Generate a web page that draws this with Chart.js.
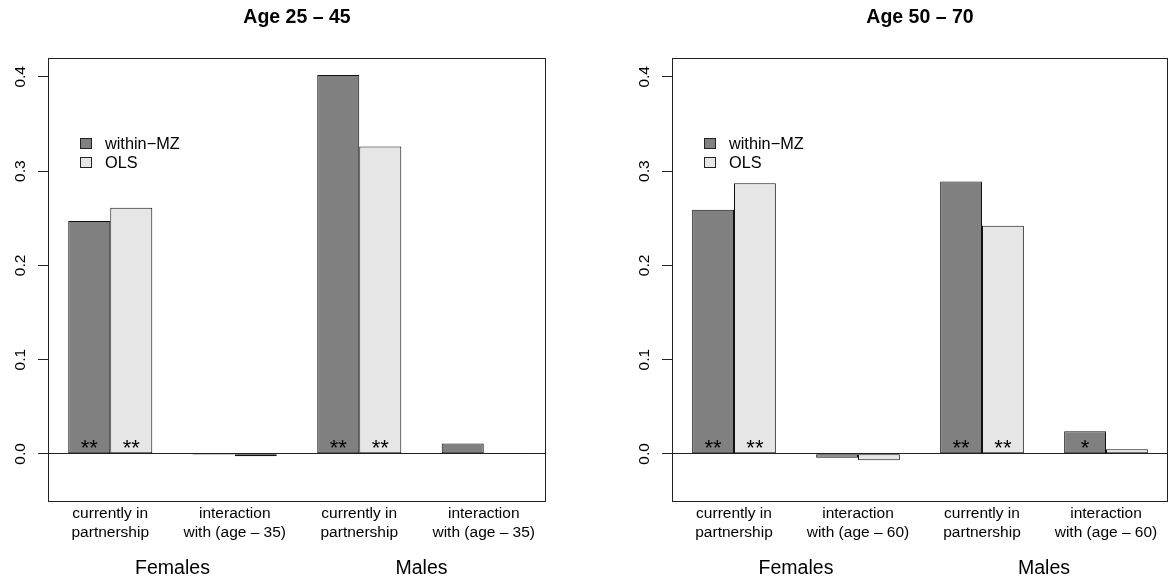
<!DOCTYPE html>
<html>
<head>
<meta charset="utf-8">
<script src="https://cdn.jsdelivr.net/npm/chart.js@4.4.1/dist/chart.umd.min.js"></script>
<style>
  body { margin: 0; background: #fff; }
  .panel { position: absolute; top: 0; height: 582px; }
</style>
</head>
<body>
<div class="panel" style="left:0;width:584px"><canvas id="young"></canvas></div>
<div class="panel" style="left:584px;width:585px"><canvas id="old"></canvas></div>
<script>
// bar groups
const groupLabels = ['Females', 'Males'];
const seriesNames = ['within\u2212MZ', 'OLS'];
const yTicks = [0, 0.1, 0.2, 0.3, 0.4];

const youngCategories = [['currently in', 'partnership'], ['interaction', 'with (age \u2013 35)'],
                         ['currently in', 'partnership'], ['interaction', 'with (age \u2013 35)']];
const youngWithin = [0.247, -0.001, 0.402, 0.011];
const youngOLS = [0.261, -0.0025, 0.326, 0.001];
const youngWithinStars = ['**', '', '**', ''];
const youngOLSStars = ['**', '', '**', ''];

const oldCategories = [['currently in', 'partnership'], ['interaction', 'with (age \u2013 60)'],
                       ['currently in', 'partnership'], ['interaction', 'with (age \u2013 60)']];
const oldWithin = [0.259, -0.004, 0.289, 0.024];
const oldOLS = [0.287, -0.0067, 0.242, 0.005];
const oldWithinStars = ['**', '', '**', '*'];
const oldOLSStars = ['**', '', '**', ''];

Chart.defaults.font.family = 'Liberation Sans';
Chart.defaults.color = '#000';
Chart.defaults.animation = false;

const FILLS = ['#808080', '#e6e6e6'];

// box, titles, legend, stars and rotated y labels (R base graphics look)
const decor = {
  id: 'decor',
  afterDraw(chart, args, opts) {
    const ctx = chart.ctx;
    const a = chart.chartArea;
    const y = chart.scales.y;
    ctx.save();
    // box
    ctx.strokeStyle = '#222';
    ctx.lineWidth = 1;
    ctx.strokeRect(Math.round(a.left) + 0.5, Math.round(a.top) + 0.5,
      Math.round(a.right - a.left) - 1, Math.round(a.bottom - a.top));
    // title
    ctx.fillStyle = '#000';
    ctx.font = 'bold 19.5px "Liberation Sans"';
    ctx.textAlign = 'center';
    ctx.textBaseline = 'alphabetic';
    ctx.fillText(opts.title, (a.left + a.right) / 2, 22.5);
    // y labels
    ctx.font = '15.5px "Liberation Sans"';
    yTicks.forEach(v => {
      ctx.save();
      ctx.translate(a.left - 23, y.getPixelForValue(v));
      ctx.rotate(-Math.PI / 2);
      ctx.fillText(v.toFixed(1), 0, 0);
      ctx.restore();
    });
    // legend
    ctx.font = '16.3px "Liberation Sans"';
    ctx.textAlign = 'left';
    chart.data.datasets.forEach((ds, i) => {
      const top = 138 + i * 19;
      ctx.fillStyle = ds.backgroundColor;
      ctx.fillRect(a.left + 32.5, top + 0.5, 11, 10);
      ctx.strokeStyle = '#222';
      ctx.strokeRect(a.left + 32.5, top + 0.5, 11, 10);
      ctx.fillStyle = '#000';
      ctx.fillText(ds.label, a.left + 57, top + 11);
    });
    // significance stars
    ctx.font = '22px "Liberation Sans"';
    ctx.textAlign = 'center';
    chart.data.datasets.forEach((ds, i) => {
      const meta = chart.getDatasetMeta(i);
      ds.stars.forEach((s, j) => {
        if (!s) return;
        ctx.fillText(s, meta.data[j].x, y.getPixelForValue(0) + 1);
      });
    });
    ctx.restore();
  }
};

function makePanel(id, title, categories, within, ols, withinStars, olsStars, leftW, rightPad) {
  new Chart(document.getElementById(id), {
    type: 'bar',
    data: {
      labels: categories,
      datasets: [
        { label: seriesNames[0], data: within, stars: withinStars, backgroundColor: FILLS[0] },
        { label: seriesNames[1], data: ols, stars: olsStars, backgroundColor: FILLS[1] }
      ]
    },
    options: {
      responsive: true,
      maintainAspectRatio: false,
      layout: { padding: { top: 58, right: rightPad, bottom: 0, left: 0 } },
      datasets: {
        bar: {
          categoryPercentage: 0.675,
          barPercentage: 1,
          borderColor: '#111',
          borderWidth: 1,
          borderSkipped: false
        }
      },
      plugins: {
        legend: { display: false },
        tooltip: { enabled: false },
        decor: { title: title }
      },
      scales: {
        y: {
          min: -0.05,
          max: 0.42,
          afterFit: s => { s.width = leftW; },
          afterBuildTicks: s => { s.ticks = yTicks.map(v => ({ value: v })); },
          ticks: { display: false },
          border: { display: false },
          grid: {
            drawTicks: true,
            tickLength: 10,
            tickColor: '#222',
            color: c => (c.tick && c.tick.value === 0 ? '#222' : 'rgba(0,0,0,0)')
          }
        },
        x: {
          weight: 0,
          afterFit: s => { s.height = 50; },
          grid: { display: false },
          border: { display: false },
          ticks: { padding: -5, maxRotation: 0, autoSkip: false,
                   font: { size: 15.5, lineHeight: 1.23 } }
        },
        x2: {
          type: 'category',
          position: 'bottom',
          weight: 1,
          labels: groupLabels,
          offset: true,
          afterFit: s => { s.height = 31; },
          grid: { display: false },
          border: { display: false },
          ticks: { padding: -2, font: { size: 19.5 } }
        }
      }
    },
    plugins: [decor]
  });
}

makePanel('young', 'Age 25 \u2013 45', youngCategories, youngWithin, youngOLS, youngWithinStars, youngOLSStars, 48, 38);
makePanel('old', 'Age 50 \u2013 70', oldCategories, oldWithin, oldOLS, oldWithinStars, oldOLSStars, 88, 1);
</script>
</body>
</html>
